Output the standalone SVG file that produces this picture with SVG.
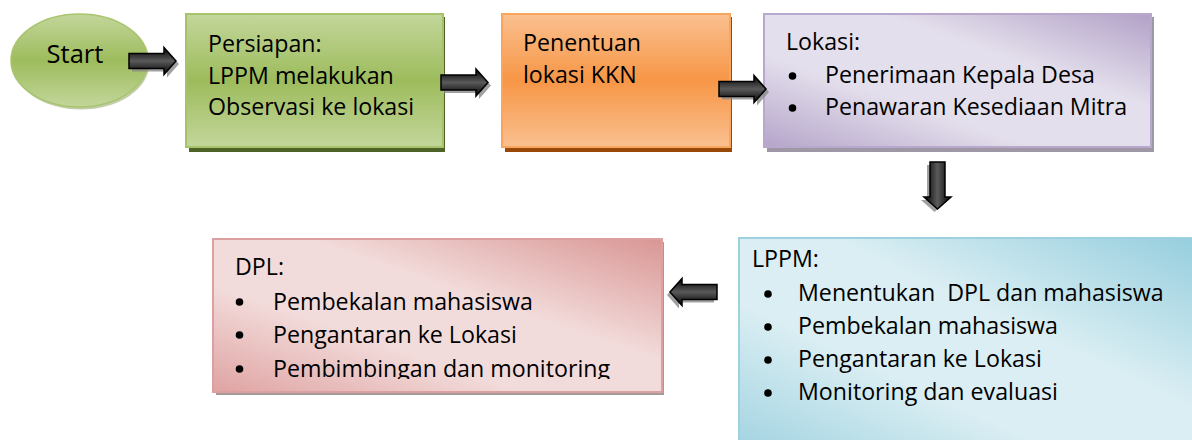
<svg xmlns="http://www.w3.org/2000/svg" xmlns:xlink="http://www.w3.org/1999/xlink" width="1192" height="440" viewBox="0 0 1192 440">
<style>
  text { font-family: "Open Sans", "Liberation Sans", sans-serif; font-size: 23.2px; fill: #000; }
  .bullet { fill: #000; }
</style>
<defs>
  <linearGradient id="gGreen" x1="0" y1="0" x2="0" y2="1">
    <stop offset="0" stop-color="#c3d69b"/>
    <stop offset="0.5" stop-color="#9dbc5c"/>
    <stop offset="1" stop-color="#c3d69b"/>
  </linearGradient>
  <linearGradient id="gOrange" x1="0" y1="0" x2="0" y2="1">
    <stop offset="0" stop-color="#fac090"/>
    <stop offset="0.5" stop-color="#f79646"/>
    <stop offset="1" stop-color="#fac090"/>
  </linearGradient>
  <linearGradient id="gPurple" x1="0" y1="1" x2="1" y2="0">
    <stop offset="0" stop-color="#b5a5ca"/>
    <stop offset="0.35" stop-color="#e4dfec"/>
    <stop offset="0.65" stop-color="#e4dfec"/>
    <stop offset="1" stop-color="#b2a1c7"/>
  </linearGradient>
  <linearGradient id="gPink" x1="0" y1="1" x2="1" y2="0">
    <stop offset="0" stop-color="#dfa3a2"/>
    <stop offset="0.35" stop-color="#f2dcdb"/>
    <stop offset="0.6" stop-color="#f2dcdb"/>
    <stop offset="1" stop-color="#d99694"/>
  </linearGradient>
  <linearGradient id="gBlue" x1="0" y1="1" x2="1" y2="0">
    <stop offset="0" stop-color="#9fd2e0"/>
    <stop offset="0.35" stop-color="#daeef3"/>
    <stop offset="0.6" stop-color="#daeef3"/>
    <stop offset="1" stop-color="#93cddd"/>
  </linearGradient>
  <linearGradient id="gArrow" x1="0" y1="0" x2="0" y2="1">
    <stop offset="0" stop-color="#000"/>
    <stop offset="0.5" stop-color="#5a5a5a"/>
    <stop offset="1" stop-color="#000"/>
  </linearGradient>
  <path id="arrowShape" d="M0,-7.5 L35,-7.5 L35,-13.5 L47,0 L35,13.5 L35,7.5 L0,7.5 Z"/>
  <g id="arrow">
    <use xlink:href="#arrowShape" transform="translate(3,3)" fill="#8a8a8a" fill-opacity="0.8"/>
    <use xlink:href="#arrowShape" fill="url(#gArrow)" stroke="#000" stroke-width="1.5"/>
  </g>
  <clipPath id="dplClip">
    <rect x="200" y="230" width="480" height="149"/>
  </clipPath>
</defs>

<g id="start">
  <ellipse cx="81" cy="63" rx="68.5" ry="46.5" fill="#76923c" fill-opacity="0.45"/>
  <ellipse cx="79.5" cy="60.5" rx="68.5" ry="46.5" fill="url(#gGreen)" stroke="#a9c46e" stroke-width="1.5"/>
  <text x="75" y="63" text-anchor="middle" style="font-size:25.5px">Start</text>
</g>

<g id="persiapan">
  <rect x="189" y="17" width="256" height="135" fill="#4f6228"/>
  <rect x="186" y="14" width="257" height="133" fill="url(#gGreen)" stroke="#a7c36a" stroke-width="2"/>
  <text x="208" y="52">Persiapan:</text>
  <text x="208" y="83.5">LPPM melakukan</text>
  <text x="208" y="115">Observasi ke lokasi</text>
</g>

<g id="penentuan">
  <rect x="505" y="17" width="227" height="135" fill="#984807"/>
  <rect x="502" y="14" width="228" height="133" fill="url(#gOrange)" stroke="#f8a560" stroke-width="2"/>
  <text x="523" y="51">Penentuan</text>
  <text x="523" y="83">lokasi KKN</text>
</g>

<g id="lokasi">
  <rect x="767" y="17" width="387" height="135" fill="#9d97a6"/>
  <rect x="764" y="14" width="387" height="133" fill="url(#gPurple)" stroke="#b8a9cc" stroke-width="2"/>
  <text x="786" y="50">Lokasi:</text>
  <circle class="bullet" cx="792.5" cy="76" r="3.8"/>
  <text x="825" y="83">Penerimaan Kepala Desa</text>
  <circle class="bullet" cx="792.5" cy="108" r="3.8"/>
  <text x="825" y="115">Penawaran Kesediaan Mitra</text>
</g>

<g id="dpl">
  <rect x="216" y="242" width="448" height="153" fill="#a59a9a"/>
  <rect x="213" y="239" width="449" height="153" fill="url(#gPink)" stroke="#dba09f" stroke-width="2"/>
  <text x="235" y="275">DPL:</text>
  <circle class="bullet" cx="239.5" cy="302" r="3.8"/>
  <text x="273" y="309.5">Pembekalan mahasiswa</text>
  <circle class="bullet" cx="239.5" cy="335" r="3.8"/>
  <text x="273" y="342.5">Pengantaran ke Lokasi</text>
  <circle class="bullet" cx="239.5" cy="369" r="3.8"/>
  <text x="273" y="377" clip-path="url(#dplClip)">Pembimbingan dan monitoring</text>
</g>

<g id="lppm">
  <rect x="739" y="238" width="470" height="220" fill="url(#gBlue)" stroke="#9dd1df" stroke-width="2"/>
  <text x="752" y="267">LPPM:</text>
  <circle class="bullet" cx="768" cy="294" r="3.8"/>
  <text x="798" y="301" xml:space="preserve">Menentukan  DPL dan mahasiswa</text>
  <circle class="bullet" cx="768" cy="327" r="3.8"/>
  <text x="798" y="334">Pembekalan mahasiswa</text>
  <circle class="bullet" cx="768" cy="360" r="3.8"/>
  <text x="798" y="367">Pengantaran ke Lokasi</text>
  <circle class="bullet" cx="768" cy="393" r="3.8"/>
  <text x="798" y="400">Monitoring dan evaluasi</text>
</g>

<g id="connectors">
  <use xlink:href="#arrow" transform="translate(129,61)"/>
  <use xlink:href="#arrow" transform="translate(441,82.5)"/>
  <use xlink:href="#arrow" transform="translate(719,89)"/>
  <use xlink:href="#arrow" transform="translate(937.5,162) rotate(90)"/>
  <use xlink:href="#arrow" transform="translate(717,292) scale(-1,1)"/>
</g>
</svg>
